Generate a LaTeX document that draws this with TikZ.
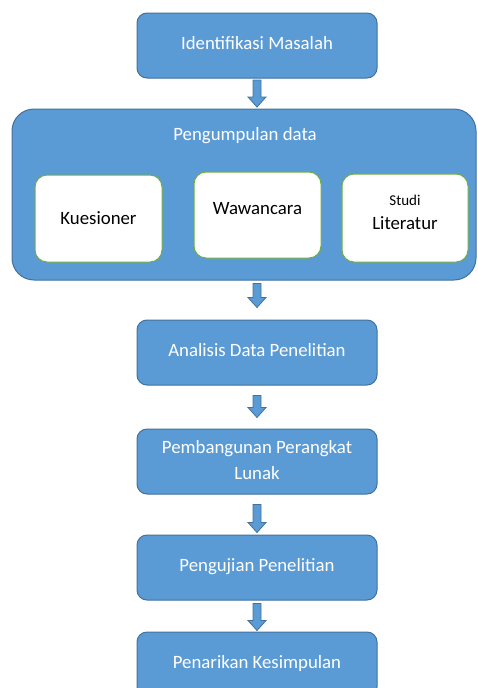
\documentclass[tikz,border=0pt]{standalone}
\usepackage{fontspec}
\setmainfont{Carlito}
\usetikzlibrary{calc}
\definecolor{ofblue}{HTML}{5B9BD5}
\definecolor{ofborder}{HTML}{41719C}
\definecolor{ofgreen}{HTML}{70AD47}
\newcommand\blockarrow[2]{%
  \draw[blockarr] let \p1=(#1) in
    (\x1-4pt,\y1) -- (\x1+4pt,\y1) -- (\x1+4pt,\y1-#2pt+10pt) -- (\x1+9pt,\y1-#2pt+10pt)
    -- (\x1,\y1-#2pt) -- (\x1-9pt,\y1-#2pt+10pt) -- (\x1-4pt,\y1-#2pt+10pt) -- cycle;}
\begin{document}
\begin{tikzpicture}[x=1pt,y=-1pt,
  txt/.style={font=\fontsize{18.8}{26}\selectfont},
  bluebox/.style={txt, draw=ofborder, fill=ofblue, line width=1pt, rounded corners=10pt,
    text=white, align=center, inner sep=0pt, minimum width=240pt, minimum height=65pt, text depth=6pt},
  bigbox/.style={draw=ofborder, fill=ofblue, line width=1pt, rounded corners=22pt, inner sep=0pt},
  whitebox/.style={txt, draw=ofgreen, fill=white, line width=1pt, rounded corners=12pt,
    align=center, inner sep=0pt},
  blockarr/.style={draw=ofborder, fill=ofblue, line width=0.8pt, line join=miter}]
\useasboundingbox (0,0) rectangle (477,688);
% top box
\node[bluebox] (b1) at (257,45.5) {Identifikasi Masalah};
% big box
\node[bigbox, minimum width=464pt, minimum height=171pt] (pd) at (244,194.5) {};
\node[txt, text=white, inner sep=0pt] (pdt) at (245,136) {Pengumpulan data};
\node[whitebox, minimum width=127pt, minimum height=87pt] (k) at (98.5,218.5) {Kuesioner};
\node[whitebox, minimum width=127pt, minimum height=86pt, text depth=14pt] (w) at (257.5,215) {Wawancara};
\node[whitebox, minimum width=126pt, minimum height=88pt, text depth=12pt] (s) at (405,218)
  {{\fontsize{15}{20}\selectfont Studi}\\[-2pt]Literatur};
% lower boxes
\node[bluebox] (b2) at (257,352.5) {Analisis Data Penelitian};
\node[bluebox, text depth=3pt] (b3) at (257,461.5) {Pembangunan Perangkat\\Lunak};
\node[bluebox] (b4) at (257,567.5) {Pengujian Penelitian};
\node[bluebox] (b5) at (257,664.5) {Penarikan Kesimpulan};
% arrows
\coordinate (c1) at ($(b1.south)+(0,1.5)$);
\coordinate (c2) at ($(pd.south)+(13,3)$);
\coordinate (c3) at ($(b2.south)+(0,10)$);
\coordinate (c4) at ($(b3.south)+(0,10)$);
\coordinate (c5) at ($(b4.south)+(0,3)$);
\blockarrow{c1}{27}
\blockarrow{c2}{24}
\blockarrow{c3}{22}
\blockarrow{c4}{28}
\blockarrow{c5}{27}
\end{tikzpicture}
\end{document}
